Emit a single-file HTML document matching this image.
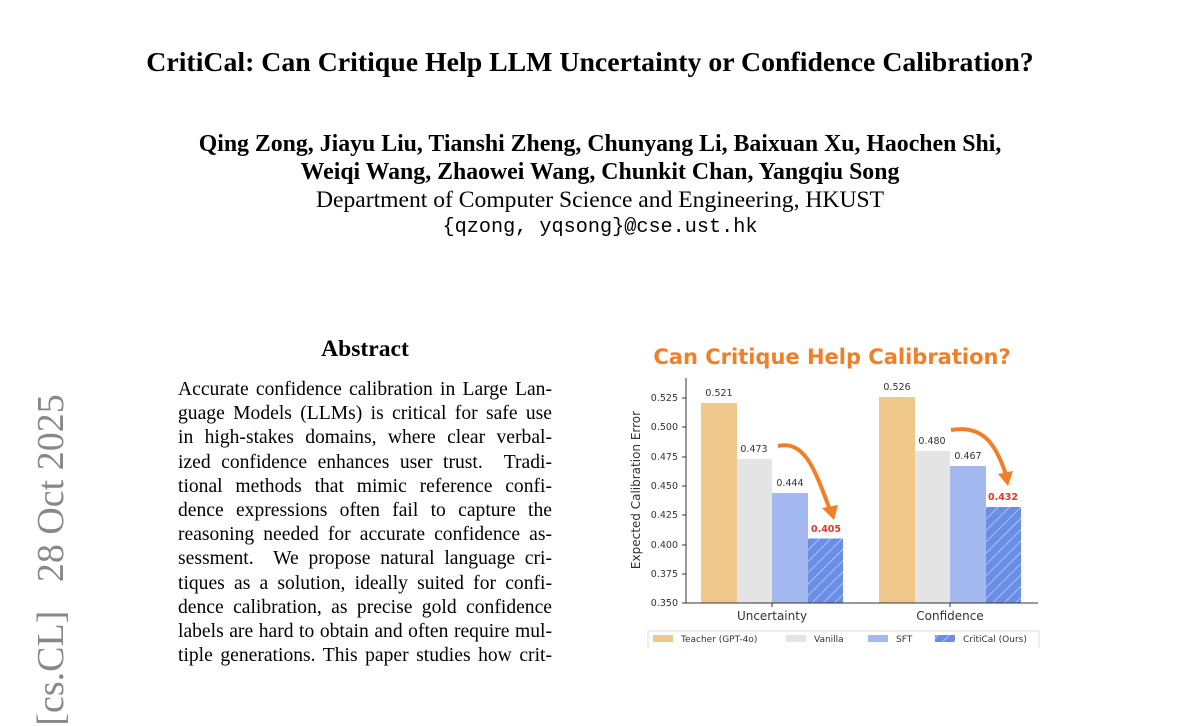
<!DOCTYPE html>
<html><head><meta charset="utf-8"><style>
body{margin:0;width:1200px;height:648px;overflow:hidden;background:#fff;position:relative;font-family:"Liberation Serif",serif;color:#000}
.c{position:absolute;left:0;width:1200px;text-align:center;white-space:nowrap}
.p{position:absolute;left:178px;width:374px;font-size:19.6px;line-height:24.2px;top:378px}
.p div{text-align:justify;text-align-last:justify;height:24.2px;white-space:nowrap}
</style></head><body>
<div class="c" style="top:47px;left:-10px;font-size:27.8px;font-weight:bold">CritiCal: Can Critique Help LLM Uncertainty or Confidence Calibration?</div>
<div class="c" style="top:131px;font-size:23.8px;font-weight:bold;line-height:27.5px">Qing Zong, Jiayu Liu, Tianshi Zheng, Chunyang Li, Baixuan Xu, Haochen Shi,<br>Weiqi Wang, Zhaowei Wang, Chunkit Chan, Yangqiu Song</div>
<div class="c" style="top:187px;font-size:23.6px">Department of Computer Science and Engineering, HKUST</div>
<div class="c" style="top:216px;font-size:20.2px;font-family:'Liberation Mono',monospace">{qzong, yqsong}@cse.ust.hk</div>
<div style="position:absolute;left:178px;width:374px;top:336px;text-align:center;font-size:23.6px;font-weight:bold">Abstract</div>
<div style="position:absolute;left:51px;top:560px;transform:translate(-50%,-50%) rotate(-90deg);white-space:nowrap;font-size:38px;color:#888;font-family:'Liberation Serif',serif">[cs.CL]&nbsp;&nbsp;&nbsp;28 Oct 2025</div>
<div class="p">
<div>Accurate confidence calibration in Large Lan-</div>
<div>guage Models (LLMs) is critical for safe use</div>
<div>in high-stakes domains, where clear verbal-</div>
<div>ized confidence enhances user trust. &nbsp;Tradi-</div>
<div>tional methods that mimic reference confi-</div>
<div>dence expressions often fail to capture the</div>
<div>reasoning needed for accurate confidence as-</div>
<div>sessment. &nbsp;We propose natural language cri-</div>
<div>tiques as a solution, ideally suited for confi-</div>
<div>dence calibration, as precise gold confidence</div>
<div>labels are hard to obtain and often require mul-</div>
<div>tiple generations. This paper studies how crit-</div>
</div>
<svg style="position:absolute;left:0;top:0" width="1200" height="648" font-family="DejaVu Sans, sans-serif">
<defs><pattern id="h" width="8" height="8" patternUnits="userSpaceOnUse" patternTransform="rotate(45)"><rect width="8" height="8" fill="#6a8ee6"/><line x1="0" y1="0" x2="0" y2="8" stroke="#c9d6f7" stroke-width="1.4"/></pattern></defs>
<text x="832" y="364" text-anchor="middle" font-size="21" font-weight="bold" fill="#f07f2a" font-family="DejaVu Sans, sans-serif">Can Critique Help Calibration?</text>
<g>
<rect x="701" y="403" width="36" height="200" fill="#f0c88c"/>
<rect x="737" y="459" width="35" height="144" fill="#e4e4e4"/>
<rect x="772" y="493" width="36" height="110" fill="#a3b9f0"/>
<rect x="808" y="538.5" width="35" height="64.5" fill="url(#h)"/>
<rect x="879" y="397" width="36" height="206" fill="#f0c88c"/>
<rect x="915" y="451" width="35" height="152" fill="#e4e4e4"/>
<rect x="950" y="466" width="36" height="137" fill="#a3b9f0"/>
<rect x="986" y="507" width="35" height="96" fill="url(#h)"/>
</g>
<g font-size="9.5" fill="#333" text-anchor="middle">
<text x="719" y="396">0.521</text><text x="754" y="452">0.473</text><text x="790" y="486">0.444</text>
<text x="897" y="390">0.526</text><text x="932" y="444">0.480</text><text x="968" y="459">0.467</text>
<text x="826" y="532" fill="#e8322a" font-weight="bold">0.405</text><text x="1003" y="500" fill="#e8322a" font-weight="bold">0.432</text>
</g>
<path d="M686 378 V603 H1038" fill="none" stroke="#333" stroke-width="1"/>
<g font-size="9.5" fill="#333" text-anchor="end">
<text x="678" y="606">0.350</text><text x="678" y="577">0.375</text><text x="678" y="548">0.400</text><text x="678" y="518">0.425</text><text x="678" y="489">0.450</text><text x="678" y="460">0.475</text><text x="678" y="430">0.500</text><text x="678" y="401">0.525</text>
</g>
<g stroke="#333"><line x1="682" x2="686" y1="603" y2="603"/><line x1="682" x2="686" y1="574" y2="574"/><line x1="682" x2="686" y1="545" y2="545"/><line x1="682" x2="686" y1="515" y2="515"/><line x1="682" x2="686" y1="486" y2="486"/><line x1="682" x2="686" y1="457" y2="457"/><line x1="682" x2="686" y1="427" y2="427"/><line x1="682" x2="686" y1="398" y2="398"/><line x1="772" x2="772" y1="603" y2="607"/><line x1="950" x2="950" y1="603" y2="607"/></g>
<text x="772" y="620" font-size="12" fill="#333" text-anchor="middle">Uncertainty</text>
<text x="950" y="620" font-size="12" fill="#333" text-anchor="middle">Confidence</text>
<text transform="translate(640,490) rotate(-90)" font-size="12" fill="#333" text-anchor="middle">Expected Calibration Error</text>
<path d="M778 446 C805 440 815 470 830 510" fill="none" stroke="#f07f2a" stroke-width="4"/>
<path d="M822 508 L834 520 L838 505 Z" fill="#f07f2a"/>
<path d="M951 430 C980 425 995 440 1006 475" fill="none" stroke="#f07f2a" stroke-width="4"/>
<path d="M998 474 L1008 486 L1013 471 Z" fill="#f07f2a"/>
<rect x="648" y="631" width="391" height="22" fill="#fff" stroke="#ddd"/>
<rect x="653" y="635" width="20" height="7" fill="#f0c88c"/><text x="681" y="642" font-size="9" fill="#333">Teacher (GPT-4o)</text>
<rect x="786" y="635" width="20" height="7" fill="#e4e4e4"/><text x="814" y="642" font-size="9" fill="#333">Vanilla</text>
<rect x="868" y="635" width="20" height="7" fill="#a3b9f0"/><text x="896" y="642" font-size="9" fill="#333">SFT</text>
<rect x="935" y="635" width="20" height="7" fill="url(#h)"/><text x="963" y="642" font-size="9" fill="#333">CritiCal (Ours)</text>
</svg>
</body></html>
